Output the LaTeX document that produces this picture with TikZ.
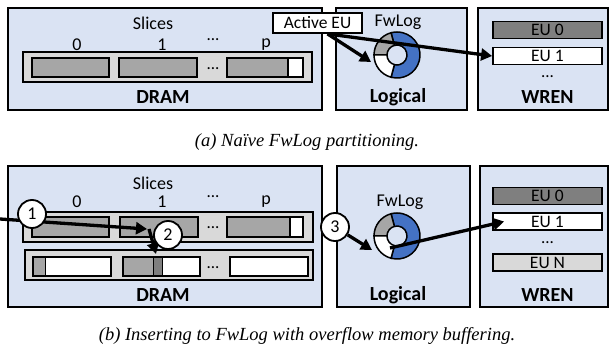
\documentclass[tikz,border=0pt]{standalone}
\usepackage{fontspec}
\setmainfont{Liberation Serif}
\newfontfamily\carl{Carlito}
\usetikzlibrary{arrows.meta}

\definecolor{boxblue}{RGB}{218,227,243}
\definecolor{stripgray}{RGB}{217,217,217}
\definecolor{slicegray}{RGB}{166,166,166}
\definecolor{eudark}{RGB}{127,127,127}
\definecolor{ringblue}{RGB}{68,114,196}

% one piece of the FwLog ring: centre, start angle, end angle, fill
\newcommand{\ringpart}[4]{%
  \filldraw[fill=#4,line width=1.5pt] (#1) ++(#2:23)
    arc[start angle=#2,end angle=#3,radius=23] -- ++(#3:-13)
    arc[start angle=#3,end angle=#2,radius=10] -- cycle;}

\begin{document}
\begin{tikzpicture}[x=1pt,y=1pt,
    panel/.style={draw,line width=1.8pt,fill=boxblue},
    strip/.style={draw,line width=1.8pt,fill=stripgray},
    slice/.style={draw,line width=1.8pt,fill=slicegray},
    eu/.style={draw,line width=1.8pt,inner sep=0pt,minimum width=109pt,
      minimum height=17pt,font=\carl\fontsize{17.5}{20}\selectfont},
    txt/.style={font=\carl\fontsize{18}{20}\selectfont},
    dotstxt/.style={font=\carl\fontsize{17}{20}\selectfont,inner sep=0pt},
    lbl/.style={font=\carl\bfseries\fontsize{20}{22}\selectfont},
    numc/.style={circle,draw,line width=1.8pt,fill=white,inner sep=0pt,
      minimum size=28pt,font=\carl\fontsize{18}{20}\selectfont},
    arr/.style={line width=3.3pt,-{Triangle[length=11pt,width=12pt]}},
    captxt/.style={font=\itshape\fontsize{18.5}{20}\selectfont}]
  \useasboundingbox (0,0) rectangle (611,351);

  % (a) naive partitioning
  \draw [panel] (8,343) rectangle (322,241);
  \draw [panel] (336,343) rectangle (467,241);
  \draw [panel] (478,343) rectangle (608,241);

  \node [txt] (slicesa) at (153,328) {Slices};
  \node [txt] (ia0) at (77,306) {0};
  \node [txt] (ia1) at (162,306) {1};
  \node [dotstxt] (iadots) at (213,311) {...};
  \node [txt] (iap) at (266,306) {p};

  \draw [strip] (23,299) rectangle (312,269);
  \draw [slice] (32,293) rectangle (109,274);
  \draw [slice] (119,293) rectangle (197,274);
  \node [dotstxt] (sadots) at (213,282) {...};
  \draw [slice] (227,293) rectangle (288,274);
  \draw [thick,fill=white] (288,293) rectangle (303,274);
  \draw [line width=1.8pt] (227,293) rectangle (303,274);
  \node [lbl] (drama) at (163,254) {DRAM};

  \node [txt] (fwloga) at (398,329) {FwLog};
  \coordinate (ringa) at (397,296);
  \ringpart{ringa}{255}{465}{ringblue}
  \ringpart{ringa}{105}{180}{slicegray}
  \ringpart{ringa}{180}{255}{white}
  \coordinate (ringa-in) at (371,289);
  \node [lbl] (logica) at (398,254) {Logical};

  \node [eu,fill=eudark] (EUa0) at (547.5,321) {EU 0};
  \node [eu,fill=white] (EUa1) at (547.5,295) {EU 1};
  \node [dotstxt] (euadots) at (547.5,274) {...};
  \node [lbl] (wrena) at (547.5,254) {WREN};

  \node [eu,fill=white,minimum width=89pt,minimum height=20pt] (act) at (317.5,328) {Active EU};
  \draw [arr] ([xshift=10pt]act.south) -- (ringa-in);
  \draw [arr] ([xshift=10pt]act.south) -- (EUa1.west);

  \node [captxt] (capa) at (307,209) {(a) Naïve FwLog partitioning.};

  % (b) overflow buffering
  \draw [panel] (8,185) rectangle (322,44);
  \draw [panel] (337,185) rectangle (470,44);
  \draw [panel] (480,185) rectangle (608,44);

  \node [txt] (slicesb) at (153,168) {Slices};
  \node [txt] (ib0) at (77,149) {0};
  \node [txt] (ib1) at (162,149) {1};
  \node [dotstxt] (ibdots) at (213,154) {...};
  \node [txt] (ibp) at (266,149) {p};

  \draw [strip] (23,139) rectangle (313,109);
  \draw [slice] (32,134) rectangle (109,114);
  \draw [slice] (120,134) rectangle (198,114);
  \node [dotstxt] (sbdots) at (213,123) {...};
  \draw [slice] (227,134) rectangle (290,114);
  \draw [thick,fill=white] (290,134) rectangle (303,114);
  \draw [line width=1.8pt] (227,134) rectangle (303,114);

  \draw [strip] (25,101) rectangle (313,71);
  \draw [thick,fill=white] (33,94) rectangle (111,75);
  \draw [thick,fill=slicegray] (33,94) rectangle (45,75);
  \draw [line width=1.8pt] (33,94) rectangle (111,75);
  \draw [thick,fill=white] (123,94) rectangle (200,75);
  \draw [thick,fill=slicegray] (123,94) rectangle (153,75);
  \draw [thick,fill=eudark] (153,94) rectangle (162,75);
  \draw [line width=1.8pt] (123,94) rectangle (200,75);
  \node [dotstxt] (ovdots) at (213,83) {...};
  \draw [line width=1.8pt,fill=white] (230,94) rectangle (308,75);
  \node [lbl] (dramb) at (163,56) {DRAM};

  \node [txt] (fwlogb) at (400,149) {FwLog};
  \coordinate (ringb) at (397,115);
  \ringpart{ringb}{255}{465}{ringblue}
  \ringpart{ringb}{105}{180}{slicegray}
  \ringpart{ringb}{180}{255}{white}
  \coordinate (ringb-in) at (372,101);
  \coordinate (ringb-out) at (390,103);
  \node [lbl] (logicb) at (398,56) {Logical};

  \node [eu,fill=eudark] (EUb0) at (547.5,155) {EU 0};
  \node [eu,fill=white] (EUb1) at (547.5,129.5) {EU 1};
  \node [dotstxt] (eubdots) at (547.5,108) {...};
  \node [eu,fill=stripgray] (EUbN) at (547.5,88.5) {EU N};
  \node [lbl] (wrenb) at (547.5,56) {WREN};

  \coordinate (inL) at (0,132);
  \coordinate (slA) at (147,122);
  \coordinate (slB) at (156,97);
  \draw [arr] (inL) -- (slA);
  \draw [arr] ([xshift=2pt]slA) -- (slB);
  \node [numc] (n1) at (32,137) {1};
  \node [numc] (n2) at (168,116) {2};
  \node [numc] (n3) at (335,124) {3};
  \draw [arr] (n3) -- (ringb-in);
  \draw [arr] (ringb-out) -- ([xshift=12pt]EUb1.west);

  \node [captxt] (capb) at (307,15) {(b) Inserting to FwLog with overflow memory buffering.};
\end{tikzpicture}
\end{document}
